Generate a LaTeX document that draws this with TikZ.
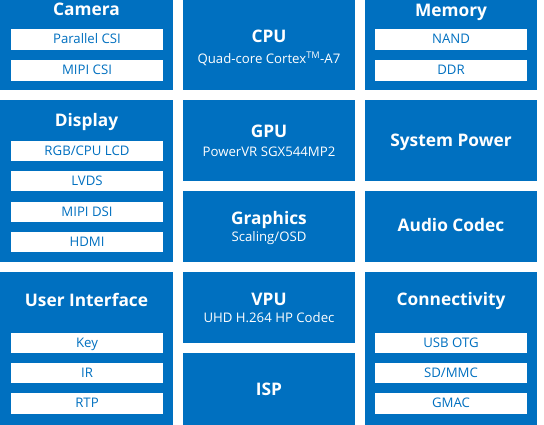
\documentclass[tikz,border=0pt]{standalone}
\usepackage{fontspec}
\setmainfont{Open Sans}
\definecolor{bl}{RGB}{0,112,192}
\begin{document}
\begin{tikzpicture}[x=1pt,y=-1pt,
  block/.style={fill=bl},
  ttl/.style={text=white, inner sep=0pt, anchor=base, font=\bfseries\fontsize{17.3}{19}\selectfont},
  sub/.style={text=white, inner sep=0pt, anchor=base, font=\fontsize{13.2}{15}\selectfont},
  item/.style={fill=white, text=bl, inner sep=0pt, minimum width=152pt, minimum height=20.5pt,
    text height=9.4pt, text depth=0.8pt, font=\fontsize{13.2}{15}\selectfont}]
\useasboundingbox (0,0) rectangle (544,424);
% blocks
\fill[block] (0,0) rectangle (173,90);
\fill[block] (183,0) rectangle (355,90);
\fill[block] (365,0) rectangle (537,90);
\fill[block] (0,100) rectangle (173,262);
\fill[block] (183,100) rectangle (355,181);
\fill[block] (183,191) rectangle (355,262);
\fill[block] (365,100) rectangle (537,181);
\fill[block] (365,191) rectangle (537,262);
\fill[block] (0,272) rectangle (173,430);
\fill[block] (183,272) rectangle (355,343);
\fill[block] (183,353) rectangle (355,430);
\fill[block] (365,272) rectangle (537,430);
% titles
\node[ttl] (camera) at (86.5,15.5) {Camera};
\node[ttl] (memory) at (451,16) {Memory};
\node[ttl] (cpu) at (269,42.5) {CPU};
\node[sub] (cpus) at (269,63.3) {Quad-core Cortex\textsuperscript{TM}-A7};
\node[ttl] (display) at (86.5,126) {Display};
\node[ttl] (gpu) at (269,137.7) {GPU};
\node[sub] (gpus) at (269,156) {PowerVR SGX544MP2};
\node[ttl] (sysp) at (451,146) {System Power};
\node[ttl] (gfx) at (269,224) {Graphics};
\node[sub] (gfxs) at (269,241.7) {Scaling/OSD};
\node[ttl] (audio) at (451,231.7) {Audio Codec};
\node[ttl] (ui) at (86.5,306) {User Interface};
\node[ttl] (vpu) at (269,305) {VPU};
\node[sub] (vpus) at (269,322.7) {UHD H.264 HP Codec};
\node[ttl] (conn) at (451,305.7) {Connectivity};
\node[ttl] (isp) at (269,395) {ISP};
% items
\node[item] (pcsi) at (87,39.5) {Parallel CSI};
\node[item] (mcsi) at (87,70.5) {MIPI CSI};
\node[item] (nand) at (451,39.5) {NAND};
\node[item] (ddr) at (451,70.5) {DDR};
\node[item] (rgb) at (87,151) {RGB/CPU LCD};
\node[item] (lvds) at (87,181) {LVDS};
\node[item] (dsi) at (87,212) {MIPI DSI};
\node[item] (hdmi) at (87,242) {HDMI};
\node[item] (key) at (87,343) {Key};
\node[item] (ir) at (87,373) {IR};
\node[item] (rtp) at (87,403.5) {RTP};
\node[item] (usb) at (451,343) {USB OTG};
\node[item] (sd) at (451,373) {SD/MMC};
\node[item] (gmac) at (451,403.5) {GMAC};
\end{tikzpicture}
\end{document}
